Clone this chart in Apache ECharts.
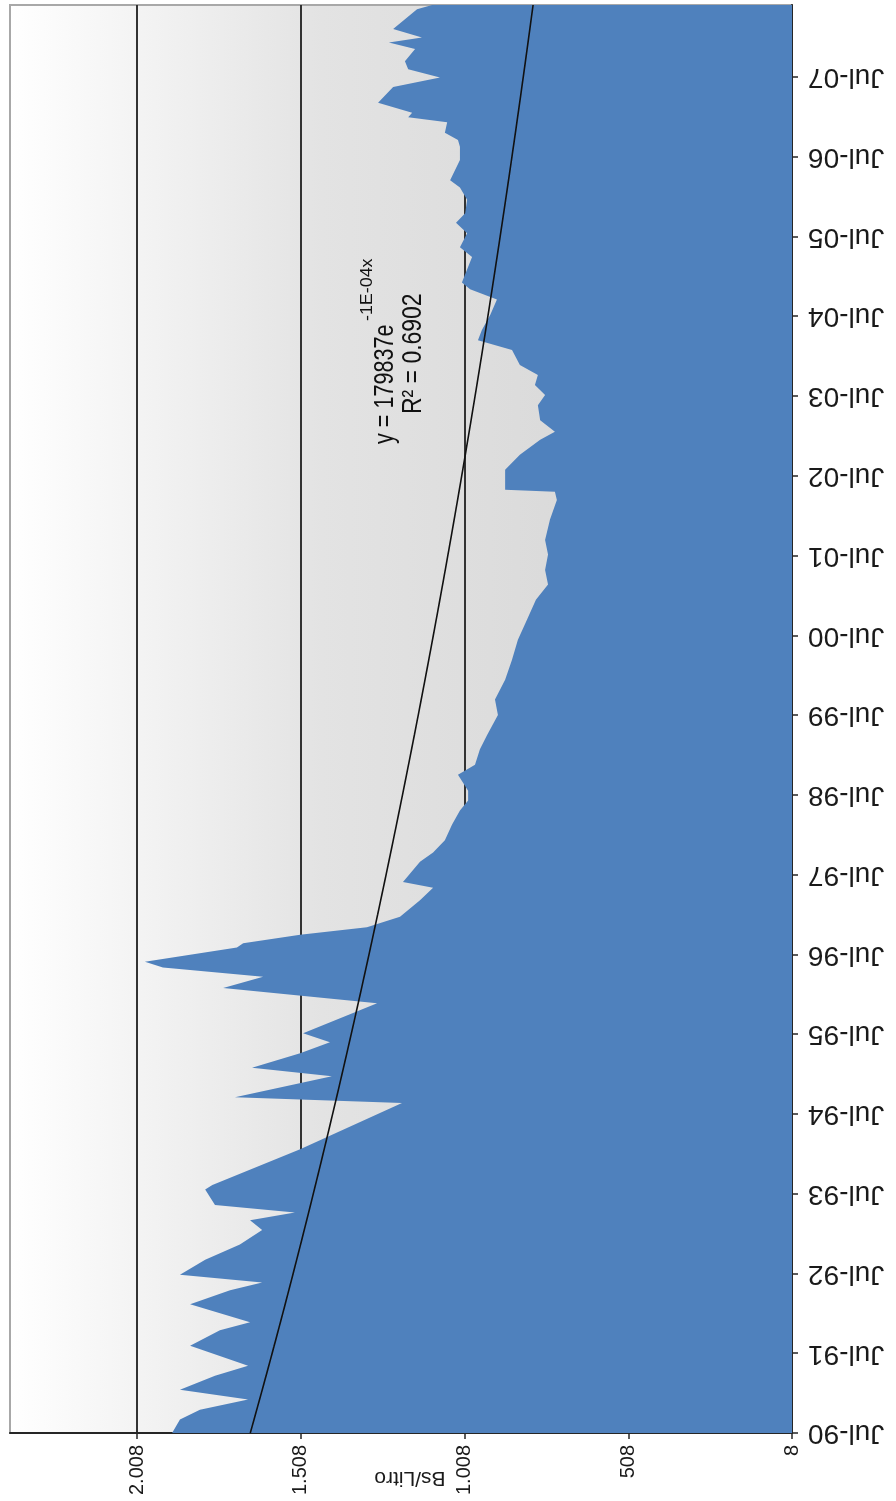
<!DOCTYPE html>
<html>
<head>
<meta charset="utf-8">
<script src="https://cdn.jsdelivr.net/npm/echarts@6/dist/echarts.min.js"></script>
<style>
  html, body { margin: 0; padding: 0; background: #ffffff; }
  #chart { width: 896px; height: 1501px; }
</style>
</head>
<body>
<div id="chart"></div>
<script>
// Price per litre over time (Bs/Litro)
const dates = [
  '1990-07-01','1990-09-01','1990-10-15','1990-12-01','1991-01-15','1991-03-20','1991-05-05',
  '1991-08-05','1991-10-15','1991-11-20','1992-02-10','1992-04-15','1992-05-20','1992-06-25',
  '1992-09-01','1992-11-10','1993-01-15','1993-03-01','1993-04-05','1993-05-10','1993-07-20',
  '1993-08-10','1994-01-20','1994-08-20','1994-09-15','1994-12-20','1995-01-28','1995-04-05',
  '1995-05-25','1995-07-05','1995-11-20','1996-01-28','1996-03-20','1996-05-01','1996-05-28',
  '1996-08-01','1996-08-20','1996-09-28','1996-11-01','1996-12-20','1997-03-05','1997-05-01',
  '1997-05-28','1997-08-28','1997-10-10','1997-12-05','1998-02-15','1998-04-20','1998-06-05',
  '1998-07-20','1998-10-01','1998-11-15','1999-01-25','1999-04-01','1999-07-01','1999-09-10',
  '1999-12-10','2000-03-10','2000-06-10','2000-09-10','2000-12-10','2001-02-18','2001-04-25',
  '2001-07-05','2001-09-10','2001-12-12','2002-03-12','2002-04-18','2002-04-28','2002-07-28',
  '2002-10-05','2002-12-12','2003-01-18','2003-03-12','2003-05-20','2003-07-05','2003-08-20',
  '2003-10-05','2003-11-20','2004-01-28','2004-03-12','2004-04-28','2004-07-05','2004-09-15',
  '2004-11-01','2004-12-01','2005-03-28','2005-05-12','2005-07-15','2005-09-01','2005-10-15',
  '2005-12-15','2006-02-10','2006-03-15','2006-06-15','2006-08-15','2006-09-15','2006-10-18',
  '2006-12-05','2006-12-28','2007-01-18','2007-03-05','2007-05-15','2007-06-28','2007-08-05',
  '2007-09-10','2007-11-05','2007-12-05','2007-12-28','2008-02-05','2008-05-05','2008-05-25'
];
const prices = [
  1893, 1869, 1808, 1661, 1869, 1762, 1661,
  1838, 1747, 1655, 1838, 1716, 1618, 1869,
  1792, 1686, 1618, 1655, 1518, 1762, 1792,
  1770, 1502, 1191, 1701, 1405, 1649, 1502,
  1411, 1493, 1267, 1737, 1615, 1921, 1976,
  1695, 1676, 1502, 1298, 1197, 1136, 1096,
  1188, 1136, 1096, 1060, 1038, 1014, 989,
  989, 1020, 968, 953, 931, 898, 907,
  876, 855, 837, 809, 782, 745, 754,
  745, 754, 739, 718, 724, 876, 876,
  831, 769, 724, 769, 776, 754, 785,
  776, 831, 855, 959, 947, 922, 901,
  983, 1008, 977, 1014, 992, 1026, 998,
  992, 1014, 1044, 1014, 1014, 1020, 1060,
  1053, 1172, 1160, 1264, 1218, 1075, 1172,
  1182, 1151, 1231, 1130, 1218, 1145, 1099
];

// Date axis: one label each July, counted in months from the first one
const yearLabels = [
  'Jul-90','Jul-91','Jul-92','Jul-93','Jul-94','Jul-95','Jul-96','Jul-97','Jul-98',
  'Jul-99','Jul-00','Jul-01','Jul-02','Jul-03','Jul-04','Jul-05','Jul-06','Jul-07'
];
const timeStart = '1990-07-01';
const timeEnd = '2008-05-25';

// Value axis
const valueTicks = [0, 500, 1000, 1500, 2000];
const valueLabels = ['8', '508', '1.008', '1.508', '2.008'];
const valueMax = 2388;
const axisTitle = 'Bs/Litro';

// Trend line annotation
const trendEquation = 'y = 179837e';
const trendExponent = '-1E-04x';
const trendR2 = 'R² = 0.6902';

const FONT = '"Liberation Sans", Arial, sans-serif';
const DAY = 86400000;
const MONTH = 30.436875 * DAY;
const ts = dates.map(d => Date.parse(d));
const t0 = Date.parse(timeStart);
const t1 = Date.parse(timeEnd);
const monthSpan = (t1 - t0) / MONTH;
const monthTicks = yearLabels.map((_, i) => i * 12);

// Exponential least-squares fit of the series (sampled monthly along the curve)
function fitExponential(times, values) {
  const base = times[0];
  let n = 0, sx = 0, sy = 0, sxx = 0, sxy = 0, j = 0;
  for (let t = times[0]; t <= times[times.length - 1]; t += MONTH) {
    while (j < times.length - 2 && times[j + 1] < t) j++;
    const f = Math.max(0, Math.min(1, (t - times[j]) / (times[j + 1] - times[j])));
    const v = values[j] + (values[j + 1] - values[j]) * f;
    const x = (t - base) / DAY, y = Math.log(v);
    n++; sx += x; sy += y; sxx += x * x; sxy += x * y;
  }
  const b = (n * sxy - sx * sy) / (n * sxx - sx * sx);
  const a = (sy - b * sx) / n;
  return t => Math.exp(a + b * (t - base) / DAY);
}
const trend = fitExponential(ts, prices);
const trendData = [];
for (let t = ts[0]; t < ts[ts.length - 1]; t += MONTH) trendData.push([trend(t), t]);
trendData.push([trend(ts[ts.length - 1]), ts[ts.length - 1]]);

const chart = echarts.init(document.getElementById('chart'));

const axisLineStyle = { color: '#262626', width: 2 };
const tickStyle = { color: '#262626', width: 1.5 };

chart.setOption({
  animation: false,
  backgroundColor: '#ffffff',
  grid: {
    left: 10, right: 104, top: 5, bottom: 68,
    outerBoundsMode: 'none',
    containLabel: false,
    show: true,
    borderColor: '#a8a8a8',
    borderWidth: 2,
    backgroundColor: new echarts.graphic.LinearGradient(0, 0, 1, 0, [
      { offset: 0, color: '#ffffff' },
      { offset: 0.4, color: '#e3e3e3' },
      { offset: 1, color: '#d2d2d2' }
    ])
  },
  xAxis: {
    type: 'value',
    inverse: true,
    position: 'bottom',
    min: 0,
    max: valueMax,
    interval: 500,
    name: axisTitle,
    nameLocation: 'middle',
    nameGap: 34,
    nameRotate: 180,
    nameMoveOverlap: false,
    nameTextStyle: { fontFamily: FONT, fontSize: 21, color: '#1a1a1a', padding: [0, 18, 0, 0] },
    axisLine: { show: true, onZero: false, lineStyle: axisLineStyle },
    axisTick: { show: true, length: 6, customValues: valueTicks, lineStyle: tickStyle },
    axisLabel: {
      rotate: 90,
      margin: 12,
      fontFamily: FONT,
      fontSize: 20,
      color: '#1a1a1a',
      showMaxLabel: false,
      formatter: v => valueLabels[valueTicks.indexOf(v)] || ''
    },
    splitLine: { show: true, showMinLine: false, showMaxLine: true, lineStyle: { color: '#333333', width: 2 } }
  },
  yAxis: [
    {
      // date scale the series is plotted on
      type: 'time',
      position: 'right',
      min: t0,
      max: t1,
      show: false,
      splitLine: { show: false }
    },
    {
      // month counter carrying the July ticks and labels
      type: 'value',
      position: 'right',
      min: 0,
      max: monthSpan,
      interval: 12,
      axisLine: { show: true, onZero: false, lineStyle: axisLineStyle },
      axisTick: { show: true, length: 6, customValues: monthTicks, lineStyle: tickStyle },
      axisLabel: {
        rotate: 180,
        margin: 16,
        fontFamily: FONT,
        fontSize: 28,
        color: '#1a1a1a',
        showMaxLabel: false,
        formatter: v => yearLabels[monthTicks.indexOf(v)] || ''
      },
      splitLine: { show: false }
    }
  ],
  series: [
    {
      name: axisTitle,
      type: 'line',
      yAxisIndex: 0,
      data: prices.map((p, i) => [p, ts[i]]),
      symbol: 'none',
      lineStyle: { width: 0, opacity: 0 },
      areaStyle: { color: '#4f81bd', opacity: 1 },
      z: 2
    },
    {
      name: 'trend',
      type: 'line',
      yAxisIndex: 0,
      data: trendData,
      symbol: 'none',
      lineStyle: { color: '#111111', width: 1.6 },
      z: 3
    }
  ],
  graphic: [
    {
      type: 'text', x: 386, y: 444, rotation: Math.PI / 2, scaleX: 0.8,
      style: { text: trendEquation, fontFamily: FONT, fontSize: 27, fill: '#111111', align: 'left', verticalAlign: 'middle' }
    },
    {
      type: 'text', x: 367, y: 321, rotation: Math.PI / 2, scaleX: 1.05,
      style: { text: trendExponent, fontFamily: FONT, fontSize: 17, fill: '#111111', align: 'left', verticalAlign: 'middle' }
    },
    {
      type: 'text', x: 413, y: 414, rotation: Math.PI / 2, scaleX: 0.82,
      style: { text: trendR2, fontFamily: FONT, fontSize: 28, fill: '#111111', align: 'left', verticalAlign: 'middle' }
    }
  ]
});
</script>
</body>
</html>
